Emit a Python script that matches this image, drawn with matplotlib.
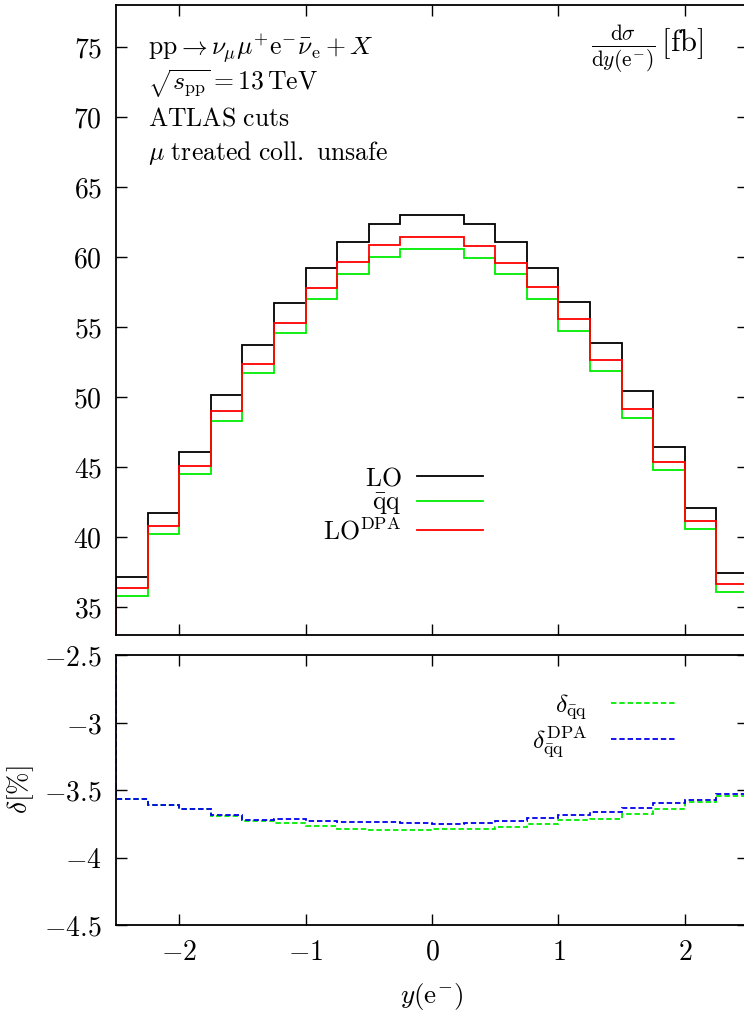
import matplotlib
matplotlib.use("Agg")
import matplotlib.pyplot as plt
from matplotlib.ticker import FixedLocator, FuncFormatter

plt.rcParams["mathtext.fontset"] = "cm"
plt.rcParams["font.family"] = ["DejaVu Serif"]

# bin edges in y(e-)
bin_edges = [-2.5, -2.25, -2.0, -1.75, -1.5, -1.25, -1.0, -0.75, -0.5, -0.25, 0.0,
             0.25, 0.5, 0.75, 1.0, 1.25, 1.5, 1.75, 2.0, 2.25, 2.5]

# dsigma/dy(e-) [fb]
lo = [37.14, 41.71, 46.07, 50.14, 53.71, 56.71, 59.21, 61.07, 62.36, 63.0,
      63.0, 62.36, 61.07, 59.21, 56.79, 53.86, 50.43, 46.43, 42.07, 37.43]
qq = [35.79, 40.21, 44.5, 48.29, 51.71, 54.57, 57.0, 58.79, 60.0, 60.57,
      60.57, 59.93, 58.79, 57.0, 54.71, 51.86, 48.5, 44.79, 40.57, 36.07]
lo_dpa = [36.36, 40.79, 45.07, 49.0, 52.36, 55.29, 57.79, 59.64, 60.86, 61.43,
          61.43, 60.79, 59.57, 57.86, 55.57, 52.64, 49.14, 45.36, 41.14, 36.64]

# relative corrections [%]
delta_qq = [-3.567, -3.609, -3.643, -3.69, -3.727, -3.742, -3.764, -3.791, -3.794, -3.796,
            -3.791, -3.787, -3.776, -3.75, -3.725, -3.713, -3.676, -3.639, -3.591, -3.547]
delta_qq_dpa = [-3.567, -3.609, -3.643, -3.685, -3.722, -3.715, -3.727, -3.737, -3.737, -3.747,
                -3.75, -3.742, -3.732, -3.707, -3.683, -3.665, -3.631, -3.596, -3.572, -3.53]

x_ticks = [-2, -1, 0, 1, 2]
top_yticks = [35, 40, 45, 50, 55, 60, 65, 70, 75]
bot_yticks = [-4.5, -4.0, -3.5, -3.0, -2.5]

info_lines = [
    r"$\mathrm{pp} \rightarrow \nu_{\mu} \mu^{+} \mathrm{e}^{-} \bar{\nu}_{\mathrm{e}} + X$",
    r"$\sqrt{s_{\mathrm{pp}}} = 13\,\mathrm{TeV}$",
    r"$\mathrm{ATLAS\ cuts}$",
    r"$\mu\ \mathrm{treated\ coll.\ unsafe}$",
]
info_y = [0.932, 0.875, 0.821, 0.765]

FS = 18.5
TFS = 20
LW = 1.3
GREEN = "#00ee00"
RED = "#ff0000"
BLUE = "#0000ee"

fig = plt.figure(figsize=(7.44, 10.17), dpi=100)
ax1 = fig.add_axes([116 / 744, 1 - 635 / 1017, 632 / 744, 630 / 1017])
ax2 = fig.add_axes([116 / 744, 1 - 925 / 1017, 632 / 744, 270 / 1017])

mfmt = FuncFormatter(lambda v, p: "$%g$" % v)

# upper panel
ax1.stairs(lo, bin_edges, baseline=0, color="black", lw=LW)
ax1.stairs(qq, bin_edges, baseline=0, color=GREEN, lw=LW)
ax1.stairs(lo_dpa, bin_edges, baseline=0, color=RED, lw=LW)
ax1.set_xlim(-2.5, 2.5)
ax1.set_ylim(33, 78)
ax1.yaxis.set_major_locator(FixedLocator(top_yticks))
ax1.yaxis.set_major_formatter(mfmt)
ax1.xaxis.set_major_locator(FixedLocator(x_ticks))
ax1.tick_params(labelbottom=False)

for s, yy in zip(info_lines, info_y):
    ax1.text(0.05, yy, s, transform=ax1.transAxes, fontsize=FS, va="center", ha="left")
ax1.text(0.93, 0.93, r"$\frac{\mathrm{d}\sigma}{\mathrm{d}y(\mathrm{e}^{-})}\,[\mathrm{fb}]$",
         transform=ax1.transAxes, fontsize=22, ha="right", va="center")

ax1.legend(loc="upper right", bbox_to_anchor=(0.618, 0.306), frameon=False, markerfirst=False,
           fontsize=FS, handlelength=2.6, handletextpad=0.6, labelspacing=0.0,
           handles=[plt.Line2D([], [], color=c, lw=LW) for c in ["black", GREEN, RED]],
           labels=[r"$\mathrm{LO}$", r"$\bar{\mathrm{q}}\mathrm{q}$", r"$\mathrm{LO}^{\mathrm{DPA}}$"])

# lower panel
dash = (0, (3.0, 1.6))
ax2.stairs(delta_qq, bin_edges, color=GREEN, lw=LW, linestyle=dash)
ax2.stairs(delta_qq_dpa, bin_edges, color=BLUE, lw=LW, linestyle=dash)
ax2.set_xlim(-2.5, 2.5)
ax2.set_ylim(-4.5, -2.5)
ax2.yaxis.set_major_locator(FixedLocator(bot_yticks))
ax2.yaxis.set_major_formatter(mfmt)
ax2.xaxis.set_major_locator(FixedLocator(x_ticks))
ax2.xaxis.set_major_formatter(mfmt)
ax2.set_xlabel(r"$y(\mathrm{e}^{-})$", fontsize=FS + 1, labelpad=11)
ax2.set_ylabel(r"$\delta[\%]$", fontsize=FS + 1, labelpad=6)
ax2.legend(loc="upper right", bbox_to_anchor=(0.925, 0.95), frameon=False, markerfirst=False,
           fontsize=FS, handlelength=2.6, handletextpad=0.9, labelspacing=0.1,
           handles=[plt.Line2D([], [], color=c, lw=LW, linestyle=dash) for c in [GREEN, BLUE]],
           labels=[r"$\delta_{\bar{\mathrm{q}}\mathrm{q}}$", r"$\delta_{\bar{\mathrm{q}}\mathrm{q}}^{\mathrm{DPA}}$"])

for ax in (ax1, ax2):
    ax.tick_params(direction="in", length=8, width=1.0, top=True, right=True,
                   labelsize=TFS, pad=10)
    for sp in ax.spines.values():
        sp.set_linewidth(1.3)

fig.savefig("out.png", dpi=100)
